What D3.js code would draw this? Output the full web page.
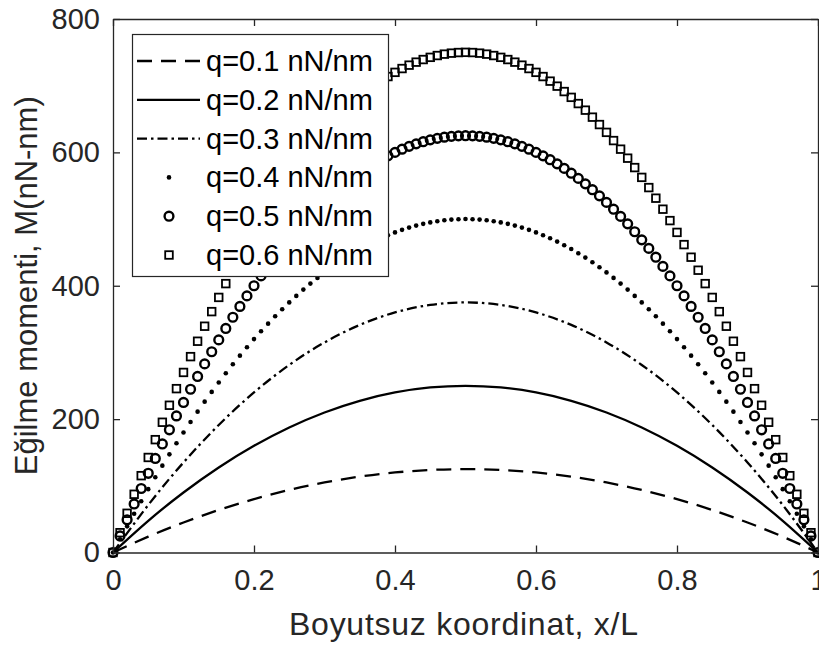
<!DOCTYPE html>
<html>
<head>
<meta charset="utf-8">
<script src="https://cdn.jsdelivr.net/npm/d3@7"></script>
<style>
  body { margin: 0; background: #fff; }
  svg { display: block; font-family: "Liberation Sans", Arial, sans-serif; }
</style>
</head>
<body>
<svg id="chart"></svg>
<script>
// x/L positions: fine grid for marker series, coarse grid for line series
const xFine = [0,0.01,0.02,0.03,0.04,0.05,0.06,0.07,0.08,0.09,0.1,0.11,0.12,0.13,0.14,0.15,0.16,0.17,0.18,0.19,0.2,
  0.21,0.22,0.23,0.24,0.25,0.26,0.27,0.28,0.29,0.3,0.31,0.32,0.33,0.34,0.35,0.36,0.37,0.38,0.39,0.4,
  0.41,0.42,0.43,0.44,0.45,0.46,0.47,0.48,0.49,0.5,0.51,0.52,0.53,0.54,0.55,0.56,0.57,0.58,0.59,0.6,
  0.61,0.62,0.63,0.64,0.65,0.66,0.67,0.68,0.69,0.7,0.71,0.72,0.73,0.74,0.75,0.76,0.77,0.78,0.79,0.8,
  0.81,0.82,0.83,0.84,0.85,0.86,0.87,0.88,0.89,0.9,0.91,0.92,0.93,0.94,0.95,0.96,0.97,0.98,0.99,1];
const xCoarse = [0,0.05,0.1,0.15,0.2,0.25,0.3,0.35,0.4,0.45,0.5,0.55,0.6,0.65,0.7,0.75,0.8,0.85,0.9,0.95,1];

// bending moment M (nN-nm)
const m01 = [0,23.75,45,63.75,80,93.75,105,113.75,120,123.75,125,123.75,120,113.75,105,93.75,80,63.75,45,23.75,0];
const m02 = [0,47.5,90,127.5,160,187.5,210,227.5,240,247.5,250,247.5,240,227.5,210,187.5,160,127.5,90,47.5,0];
const m03 = [0,71.25,135,191.25,240,281.25,315,341.25,360,371.25,375,371.25,360,341.25,315,281.25,240,191.25,135,71.25,0];
const m04 = [0,19.8,39.2,58.2,76.8,95,112.8,130.2,147.2,163.8,180,195.8,211.2,226.2,240.8,255,268.8,282.2,295.2,307.8,320,
  331.8,343.2,354.2,364.8,375,384.8,394.2,403.2,411.8,420,427.8,435.2,442.2,448.8,455,460.8,466.2,471.2,475.8,480,
  483.8,487.2,490.2,492.8,495,496.8,498.2,499.2,499.8,500,499.8,499.2,498.2,496.8,495,492.8,490.2,487.2,483.8,480,
  475.8,471.2,466.2,460.8,455,448.8,442.2,435.2,427.8,420,411.8,403.2,394.2,384.8,375,364.8,354.2,343.2,331.8,320,
  307.8,295.2,282.2,268.8,255,240.8,226.2,211.2,195.8,180,163.8,147.2,130.2,112.8,95,76.8,58.2,39.2,19.8,0];
const m05 = [0,24.8,49,72.8,96,118.8,141,162.8,184,204.8,225,244.8,264,282.8,301,318.8,336,352.8,369,384.8,400,
  414.8,429,442.8,456,468.8,481,492.8,504,514.8,525,534.8,544,552.8,561,568.8,576,582.8,589,594.8,600,
  604.8,609,612.8,616,618.8,621,622.8,624,624.8,625,624.8,624,622.8,621,618.8,616,612.8,609,604.8,600,
  594.8,589,582.8,576,568.8,561,552.8,544,534.8,525,514.8,504,492.8,481,468.8,456,442.8,429,414.8,400,
  384.8,369,352.8,336,318.8,301,282.8,264,244.8,225,204.8,184,162.8,141,118.8,96,72.8,49,24.8,0];
const m06 = [0,29.7,58.8,87.3,115.2,142.5,169.2,195.3,220.8,245.7,270,293.7,316.8,339.3,361.2,382.5,403.2,423.3,442.8,461.7,480,
  497.7,514.8,531.3,547.2,562.5,577.2,591.3,604.8,617.7,630,641.7,652.8,663.3,673.2,682.5,691.2,699.3,706.8,713.7,720,
  725.7,730.8,735.3,739.2,742.5,745.2,747.3,748.8,749.7,750,749.7,748.8,747.3,745.2,742.5,739.2,735.3,730.8,725.7,720,
  713.7,706.8,699.3,691.2,682.5,673.2,663.3,652.8,641.7,630,617.7,604.8,591.3,577.2,562.5,547.2,531.3,514.8,497.7,480,
  461.7,442.8,423.3,403.2,382.5,361.2,339.3,316.8,293.7,270,245.7,220.8,195.3,169.2,142.5,115.2,87.3,58.8,29.7,0];

const seriesLabels = ["q=0.1 nN/nm", "q=0.2 nN/nm", "q=0.3 nN/nm", "q=0.4 nN/nm", "q=0.5 nN/nm", "q=0.6 nN/nm"];
const xTicks = [0, 0.2, 0.4, 0.6, 0.8, 1];
const yTicks = [0, 200, 400, 600, 800];

const series = [
  { label: seriesLabels[0], xs: xCoarse, ys: m01, kind: "line", dash: "15,9" },
  { label: seriesLabels[1], xs: xCoarse, ys: m02, kind: "line", dash: null },
  { label: seriesLabels[2], xs: xCoarse, ys: m03, kind: "line", dash: "10,4,2.5,4" },
  { label: seriesLabels[3], xs: xFine, ys: m04, kind: "dot" },
  { label: seriesLabels[4], xs: xFine, ys: m05, kind: "circle" },
  { label: seriesLabels[5], xs: xFine, ys: m06, kind: "square" },
];

const W = 819, H = 653;
const margin = { top: 19, right: 1, bottom: 100.5, left: 113 };
const axisColor = "#262626";

const svg = d3.select("#chart").attr("width", W).attr("height", H);

const x = d3.scaleLinear().domain([0, 1]).range([margin.left, W - margin.right]);
const y = d3.scaleLinear().domain([0, 800]).range([H - margin.bottom, margin.top]);

const plot = svg.append("g");

// draw a marker of the given kind
function drawMarker(g, kind, cx, cy) {
  if (kind === "dot") {
    g.append("circle").attr("cx", cx).attr("cy", cy).attr("r", 2.3).attr("fill", "#000");
  } else if (kind === "circle") {
    g.append("circle").attr("cx", cx).attr("cy", cy).attr("r", 4.4)
      .attr("fill", "none").attr("stroke", "#000").attr("stroke-width", 2.4);
  } else if (kind === "square") {
    g.append("rect").attr("x", cx - 3.8).attr("y", cy - 3.8).attr("width", 7.6).attr("height", 7.6)
      .attr("fill", "none").attr("stroke", "#000").attr("stroke-width", 1.8);
  }
}

series.forEach(s => {
  const pts = s.xs.map((v, i) => [v, s.ys[i]]);
  if (s.kind === "line") {
    const line = d3.line().x(d => x(d[0])).y(d => y(d[1])).curve(d3.curveNatural);
    plot.append("path")
      .datum(pts)
      .attr("d", line)
      .attr("fill", "none")
      .attr("stroke", "#000")
      .attr("stroke-width", 2.3)
      .attr("stroke-dasharray", s.dash);
  } else {
    const g = plot.append("g");
    pts.forEach(d => drawMarker(g, s.kind, x(d[0]), y(d[1])));
  }
});

// axes with inward ticks on all four sides
const tickLen = 7;
const axes = svg.append("g").attr("color", axisColor);

axes.append("g")
  .attr("transform", `translate(0,${y(0)})`)
  .call(d3.axisBottom(x).tickValues(xTicks).tickSizeInner(-tickLen).tickSizeOuter(0).tickPadding(17)
    .tickFormat(d3.format("")));
axes.append("g")
  .attr("transform", `translate(0,${y(800)})`)
  .call(d3.axisTop(x).tickValues(xTicks).tickSizeInner(-tickLen).tickSizeOuter(0).tickFormat(""));
axes.append("g")
  .attr("transform", `translate(${x(0)},0)`)
  .call(d3.axisLeft(y).tickValues(yTicks).tickSizeInner(-tickLen).tickSizeOuter(0).tickPadding(13)
    .tickFormat(d3.format("")));
axes.append("g")
  .attr("transform", `translate(${x(1)},0)`)
  .call(d3.axisRight(y).tickValues(yTicks).tickSizeInner(-tickLen).tickSizeOuter(0).tickFormat(""));

axes.selectAll(".domain").attr("stroke-width", 1.3);
axes.selectAll(".tick line").attr("stroke-width", 1.3);
axes.selectAll(".tick text")
  .attr("font-size", 29)
  .attr("font-family", "Liberation Sans, Arial, sans-serif")
  .attr("fill", axisColor);

// axis titles
svg.append("text")
  .attr("x", (x(0) + x(1)) / 2 - 2)
  .attr("y", 635)
  .attr("text-anchor", "middle")
  .attr("font-size", 32)
  .attr("fill", axisColor)
  .attr("textLength", 349)
  .text("Boyutsuz koordinat, x/L");

svg.append("text")
  .attr("transform", `translate(37,${(y(0) + y(800)) / 2}) rotate(-90)`)
  .attr("text-anchor", "middle")
  .attr("font-size", 31)
  .attr("fill", axisColor)
  .text("Eğilme momenti, M(nN-nm)");

// legend
const legend = svg.append("g");
legend.append("rect")
  .attr("x", 132.5).attr("y", 34.5)
  .attr("width", 256).attr("height", 242)
  .attr("fill", "#fff")
  .attr("stroke", axisColor)
  .attr("stroke-width", 1.2);

const rowY = d3.scaleLinear().domain([0, 5]).range([61, 255]);
series.forEach((s, i) => {
  const cy = rowY(i);
  if (s.kind === "line") {
    legend.append("line")
      .attr("x1", 137).attr("x2", 200).attr("y1", cy).attr("y2", cy)
      .attr("stroke", "#000").attr("stroke-width", 2.3)
      .attr("stroke-dasharray", s.dash);
  } else {
    drawMarker(legend, s.kind, 169, cy);
  }
  legend.append("text")
    .attr("x", 206)
    .attr("y", cy + 10)
    .attr("font-size", 29)
    .attr("fill", "#000")
    .text(s.label);
});
</script>
</body>
</html>
